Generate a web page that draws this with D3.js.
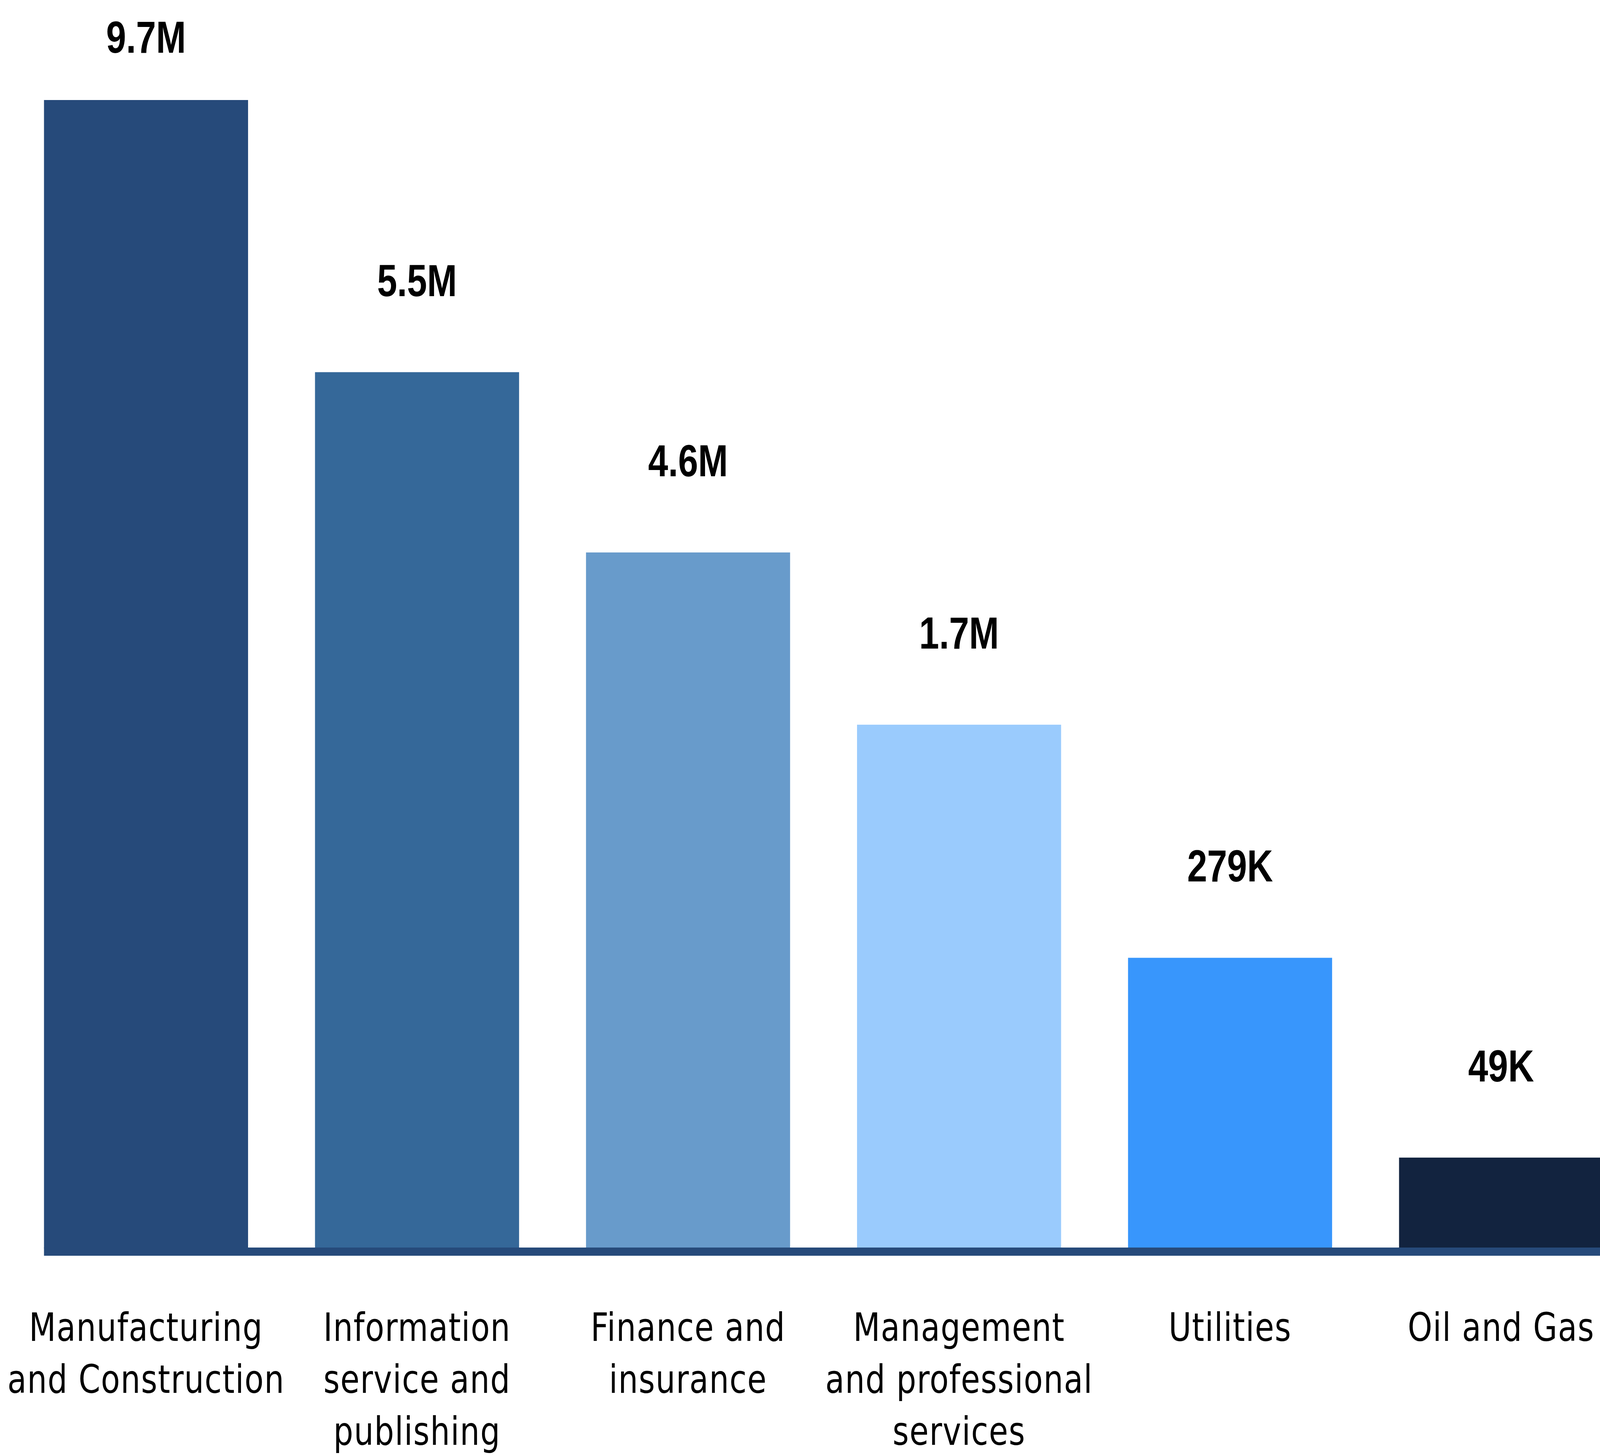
<!DOCTYPE html>
<html>
<head>
<meta charset="utf-8">
<script src="https://cdn.jsdelivr.net/npm/d3@7"></script>
<style>
  html, body { margin: 0; padding: 0; background: #ffffff; overflow: hidden; }
  svg { display: block; }
</style>
</head>
<body>
<div id="chart"></div>
<script>
// chart data
const categories = ["Manufacturing and Construction", "Information service and publishing", "Finance and insurance",
  "Management and professional services", "Utilities", "Oil and Gas"];
const categoryLines = [["Manufacturing", "and Construction"], ["Information", "service and", "publishing"],
  ["Finance and", "insurance"], ["Management", "and professional", "services"], ["Utilities"], ["Oil and Gas"]];
const valueLabels = ["9.7M", "5.5M", "4.6M", "1.7M", "279K", "49K"];
// bar length as drawn, in % of the tallest bar (the bars are not to scale with the labels)
const barLength = [100, 76.3, 60.6, 45.6, 25.3, 7.9];
const barColors = ["#264a7a", "#356899", "#689bcb", "#9acbfd", "#3896fc", "#12233f"];

// drawing units are the reference's pixels; the viewBox stretches them over the whole window
const WIDTH = 5128, HEIGHT = 3724;
const baseY = 3195;

let svg = d3.select("#chart")
    .append("svg")
    .attr("width", window.innerWidth)
    .attr("height", window.innerHeight)
    .attr("viewBox", `0 0 ${WIDTH} ${HEIGHT}`)
    .attr("preserveAspectRatio", "none");

let x = d3.scaleBand()
    .domain(categories)
    .range([141, 5138])
    .paddingInner(0.247)
    .paddingOuter(0);

let y = d3.scaleLinear()
    .domain([0, 100])
    .range([baseY, 256]);

let color = d3.scaleOrdinal()
    .domain(categories)
    .range(barColors);

let data = categories.map(function(c, i) {
    return {cat: c, len: barLength[i], label: valueLabels[i]};
});

svg.append("clipPath")
    .attr("id", "frame")
    .append("rect")
    .attr("width", WIDTH)
    .attr("height", HEIGHT);

let plot = svg.append("g").attr("clip-path", "url(#frame)");

plot.selectAll("rect.bar")
    .data(data)
    .enter()
    .append("rect")
    .attr("class", "bar")
    .attr("x", function(d) { return x(d.cat); })
    .attr("y", function(d) { return y(d.len); })
    .attr("width", x.bandwidth())
    .attr("height", function(d) { return y(0) - y(d.len); })
    .attr("fill", function(d) { return color(d.cat); });

// baseline
plot.append("rect")
    .attr("x", x(categories[0]))
    .attr("y", baseY - 2)
    .attr("width", WIDTH - x(categories[0]))
    .attr("height", 21)
    .attr("fill", "#264a7a");

// value labels (kept inside the top edge for the tallest bar)
svg.selectAll("text.value")
    .data(data)
    .enter()
    .append("text")
    .attr("class", "value")
    .attr("x", function(d) { return x(d.cat) + x.bandwidth() / 2; })
    .attr("y", function(d) { return Math.max(y(d.len) - 195, 135); })
    .style("text-anchor", "middle")
    .style("font-family", "'Liberation Sans', Arial, sans-serif")
    .style("font-weight", "bold")
    .style("font-size", "115px")
    .style("fill", "#000")
    .text(function(d) { return d.label; });

// category axis
let axis = svg.append("g")
    .attr("transform", `translate(0, ${baseY + 20})`)
    .call(d3.axisBottom(x).tickSize(0).tickPadding(0));

axis.select(".domain").remove();

axis.selectAll(".tick text")
    .attr("y", 217)
    .attr("dy", null)
    .style("font-family", "'DejaVu Sans', sans-serif")
    .style("font-size", "100px")
    .style("letter-spacing", "2px")
    .style("fill", "#000")
    .each(function(c) {
        let t = d3.select(this);
        let lines = categoryLines[categories.indexOf(c)];
        t.text(null);
        lines.forEach(function(line, i) {
            t.append("tspan")
                .attr("x", 0)
                .attr("dy", i === 0 ? 0 : 133)
                .text(line);
        });
    });
</script>
</body>
</html>
